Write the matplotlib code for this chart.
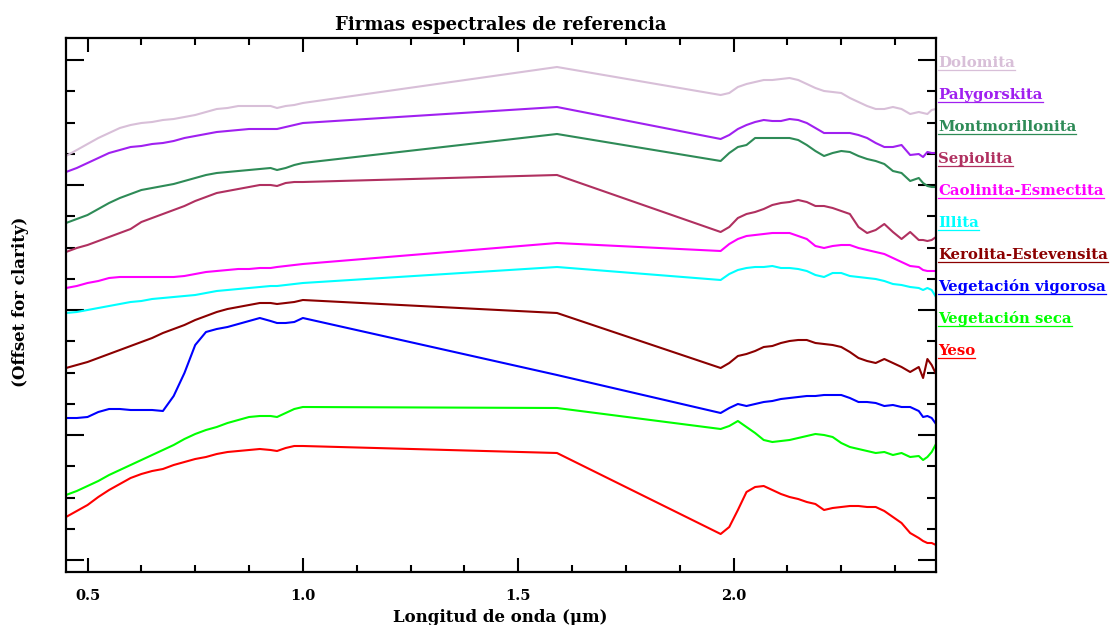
import matplotlib
matplotlib.use("Agg")
import matplotlib.pyplot as plt
from matplotlib.lines import Line2D
from matplotlib.ticker import MultipleLocator, NullFormatter, FormatStrFormatter


# longitudes de onda (um), rejilla comun a todas las firmas
wavelength = [0.45, 0.475, 0.50, 0.525, 0.55, 0.575, 0.60, 0.625, 0.65, 0.675,
              0.70, 0.725, 0.75, 0.775, 0.80, 0.825, 0.85, 0.875, 0.90, 0.925,
              0.94, 0.96, 0.98, 1.00,
              1.59,
              1.97, 1.99, 2.01, 2.03, 2.05, 2.07, 2.09, 2.11, 2.13, 2.15, 2.17,
              2.19, 2.21, 2.23, 2.25, 2.27, 2.29, 2.31, 2.33, 2.35, 2.37, 2.39,
              2.41, 2.43, 2.44, 2.45, 2.46, 2.47]

# reflectancia + offset
dolomita = [.404, .410, .416, .422, .427, .432, .435, .437, .438, .440, .441, .443,
            .445, .448, .451, .452, .454, .454, .454, .454, .452, .454, .455, .457,
            .493,
            .465, .467, .473, .476, .478, .480, .480, .481, .482, .480, .476, .472,
            .469, .468, .467, .462, .458, .454, .451, .451, .453, .451, .446,
            .448, .447, .446, .450, .451]
palygorskita = [.388, .392, .397, .402, .407, .410, .413, .414, .416, .417, .419, .422,
                .424, .426, .428, .429, .430, .431, .431, .431, .431, .433, .435, .437,
                .453,
                .421, .425, .431, .435, .438, .440, .439, .439, .441, .440, .437, .432,
                .427, .427, .427, .427, .425, .422, .417, .413, .413, .415, .405,
                .406, .403, .408, .407, .407]
montmorillonita = [.337, .341, .345, .351, .357, .362, .366, .370, .372, .374, .376, .379,
                   .382, .385, .387, .388, .389, .390, .391, .392, .390, .392, .395, .397,
                   .426,
                   .399, .407, .413, .415, .422, .422, .422, .422, .422, .420, .415, .409,
                   .404, .407, .409, .408, .404, .401, .399, .396, .389, .387, .379,
                   .382, .377, .374, .373, .373]
sepiolita = [.308, .312, .315, .319, .323, .327, .331, .338, .342, .346, .350, .354,
             .359, .363, .367, .369, .371, .373, .375, .375, .374, .377, .378, .378,
             .385,
             .328, .333, .342, .346, .348, .351, .355, .357, .358, .360, .358, .354,
             .354, .352, .349, .346, .333, .327, .330, .336, .328, .321, .328,
             .320, .320, .319, .320, .323]
caolinita = [.272, .274, .277, .279, .282, .283, .283, .283, .283, .283, .283, .284,
             .286, .288, .289, .290, .291, .291, .292, .292, .293, .294, .295, .296,
             .317,
             .309, .316, .321, .324, .325, .326, .327, .327, .327, .324, .321, .314,
             .312, .314, .315, .315, .312, .310, .308, .306, .302, .298, .294,
             .293, .290, .289, .289, .289]
illita = [.247, .248, .250, .252, .254, .256, .258, .259, .261, .262, .263, .264,
          .265, .267, .269, .270, .271, .272, .273, .274, .274, .275, .276, .277,
          .293,
          .280, .286, .290, .292, .293, .293, .294, .292, .292, .291, .289, .285,
          .283, .287, .287, .284, .283, .282, .281, .279, .276, .275, .273,
          .272, .270, .272, .270, .263]
kerolita = [.192, .195, .198, .202, .206, .210, .214, .218, .222, .227, .231, .235,
            .240, .244, .248, .251, .253, .255, .257, .257, .256, .257, .258, .260,
            .247,
            .192, .197, .204, .206, .209, .213, .214, .217, .219, .220, .220, .217,
            .216, .215, .213, .208, .202, .199, .197, .201, .197, .193, .188,
            .193, .182, .201, .195, .186]
veg_vigorosa = [.142, .142, .143, .148, .151, .151, .150, .150, .150, .149, .164, .187,
                .215, .228, .231, .233, .236, .239, .242, .239, .237, .237, .238, .242,
                .185,
                .147, .152, .156, .154, .156, .158, .159, .161, .162, .163, .164, .164,
                .165, .165, .165, .162, .158, .158, .157, .154, .155, .153, .153,
                .149, .143, .144, .142, .136]
veg_seca = [.065, .069, .074, .079, .085, .090, .095, .100, .105, .110, .115, .121,
            .126, .130, .133, .137, .140, .143, .144, .144, .143, .147, .151, .153,
            .152,
            .131, .134, .139, .133, .127, .120, .118, .119, .120, .122, .124, .126,
            .125, .123, .117, .113, .111, .109, .107, .108, .105, .107, .103,
            .104, .100, .103, .108, .116]
yeso = [.043, .049, .055, .063, .070, .076, .082, .086, .089, .091, .095, .098,
        .101, .103, .106, .108, .109, .110, .111, .110, .109, .112, .114, .114,
        .107,
        .026, .033, .050, .068, .073, .074, .070, .066, .063, .061, .058, .056,
        .050, .052, .053, .054, .054, .053, .053, .049, .043, .037, .027,
        .022, .019, .017, .017, .015]

names = ["Dolomita", "Palygorskita", "Montmorillonita", "Sepiolita",
         "Caolinita-Esmectita", "Illita", "Kerolita-Estevensita",
         "Vegetación vigorosa", "Vegetación seca", "Yeso"]
colors = ["#D8BFD8", "#A020F0", "#2E8B57", "#B03060", "#FF00FF",
          "#00FFFF", "#8B0000", "#0000FF", "#00FF00", "#FF0000"]
spectra = [dolomita, palygorskita, montmorillonita, sepiolita, caolinita,
           illita, kerolita, veg_vigorosa, veg_seca, yeso]

plt.rcParams['font.family'] = ['DejaVu Serif']
plt.rcParams['font.weight'] = 'bold'

W, H = 1112, 625
fig = plt.figure(figsize=(W / 100, H / 100), dpi=100)
ax = fig.add_axes([66 / W, 1 - 572 / H, 870 / W, 534 / H])

for spec, col in zip(spectra, colors):
    ax.plot(wavelength, spec, color=col, lw=1.5)

ax.set_xlim(0.45, 2.47)
ax.set_ylim(-0.012, 0.522)
ax.xaxis.set_major_locator(MultipleLocator(0.5))
ax.xaxis.set_minor_locator(MultipleLocator(0.125))
ax.xaxis.set_major_formatter(FormatStrFormatter('%.1f'))
ax.yaxis.set_major_locator(MultipleLocator(0.125))
ax.yaxis.set_minor_locator(MultipleLocator(0.03125))
ax.yaxis.set_major_formatter(NullFormatter())

ax.tick_params(which='both', direction='in', top=True, right=True, width=1.5)
ax.tick_params(axis='x', which='major', length=10, pad=12, labelsize=10.5)
ax.tick_params(axis='x', which='minor', length=5)
ax.tick_params(axis='y', which='major', length=13)
ax.tick_params(axis='y', which='minor', length=6.5)
for sp in ax.spines.values():
    sp.set_linewidth(1.6)

fig.text(501 / W, 1 - 29.5 / H, "Firmas espectrales de referencia",
         ha='center', va='baseline', fontsize=13, fontweight='bold')
fig.text(500.5 / W, 1 - 622 / H, "Longitud de onda (μm)",
         ha='center', va='baseline', fontsize=12, fontweight='bold')
fig.text(20.5 / W, 1 - 302 / H, "(Offset for clarity)", rotation=90,
         ha='center', va='center', fontsize=12, fontweight='bold')

# etiquetas a la derecha, subrayadas
labels = []
for i, (name, col) in enumerate(zip(names, colors)):
    y_under = 70 + 32.03 * i
    t = fig.text(938 / W, 1 - y_under / H, name, color=col,
                 ha='left', va='bottom', fontsize=10.7, fontweight='bold')
    labels.append(t)

fig.canvas.draw()
renderer = fig.canvas.get_renderer()
for t in labels:
    bb = t.get_window_extent(renderer).transformed(fig.transFigure.inverted())
    fig.add_artist(Line2D([bb.x0, bb.x1], [bb.y0, bb.y0], color=t.get_color(),
                          lw=0.9, transform=fig.transFigure))

fig.savefig("out.png", dpi=100)
